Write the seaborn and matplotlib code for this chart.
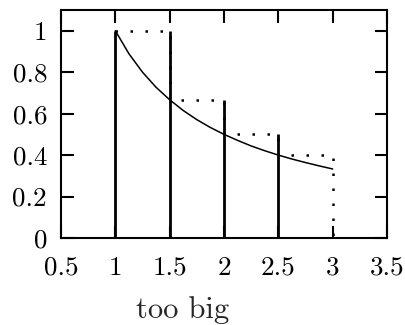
import matplotlib
matplotlib.use("Agg")
import matplotlib.pyplot as plt
import seaborn as sns
import pandas as pd

# data
curve_x = [1.0, 1.125, 1.25, 1.375, 1.5, 1.625, 1.75, 1.875, 2.0, 2.125, 2.25, 2.375, 2.5, 2.625, 2.75, 2.875, 3.0]
curve_y = [1.0, 0.889, 0.8, 0.727, 0.667, 0.615, 0.571, 0.533, 0.5, 0.471, 0.444, 0.421, 0.4, 0.381, 0.364, 0.348, 0.333]
edges = [1.0, 1.5, 2.0, 2.5, 3.0]
rect_heights = [1.0, 0.667, 0.5, 0.4]
impulse_x = [1.0, 1.5, 2.0, 2.5]
impulse_h = [1.0, 1.0, 0.667, 0.5]
xticks = [0.5, 1, 1.5, 2, 2.5, 3, 3.5]
xticklabels = ["0.5", "1", "1.5", "2", "2.5", "3", "3.5"]
yticks = [0, 0.2, 0.4, 0.6, 0.8, 1]
yticklabels = ["0", "0.2", "0.4", "0.6", "0.8", "1"]
xlabel = "too big"

sns.set_theme(style="ticks")
plt.rcParams["font.family"] = ["cmr10", "DejaVu Serif"]
plt.rcParams["axes.unicode_minus"] = False

fig = plt.figure(figsize=(4.05, 3.25), dpi=100)
ax = fig.add_axes([61/405, 1-238/325, (387-61)/405, (238-10)/325])

# step outline (dotted)
sx, sy = [], []
for i in range(len(rect_heights)):
    sx += [edges[i], edges[i+1]]
    sy += [rect_heights[i], rect_heights[i]]
sx.append(edges[-1]); sy.append(0.0)
step_df = pd.DataFrame({"x": sx, "y": sy})
sns.lineplot(data=step_df, x="x", y="y", sort=False, ax=ax, color="black",
             lw=1.8, linestyle=(0, (1, 5)), dash_capstyle="butt", estimator=None)

# impulses
ax.vlines(impulse_x, 0, impulse_h, color="black", lw=2.0)

# curve
cdf = pd.DataFrame({"x": curve_x, "y": curve_y})
sns.lineplot(data=cdf, x="x", y="y", ax=ax, color="black", lw=1.1, estimator=None)

ax.set_xlim(0.5, 3.5)
ax.set_ylim(0, 1.1)
ax.set_xticks(xticks)
ax.set_xticklabels(xticklabels)
ax.set_yticks(yticks)
ax.set_yticklabels(yticklabels)
ax.set_xlabel("")
ax.set_ylabel("")
ax.tick_params(direction="in", length=9, width=1.5, top=True, right=True,
               labelsize=19.5, colors="black")
ax.tick_params(axis="x", pad=13)
ax.tick_params(axis="y", pad=10)
for s in ax.spines.values():
    s.set_linewidth(1.5)
    s.set_color("black")
    s.set_visible(True)

fig.text(183/405, 1-318/325, xlabel, ha="center", va="baseline", fontsize=22)

fig.savefig("out.png", dpi=100)
